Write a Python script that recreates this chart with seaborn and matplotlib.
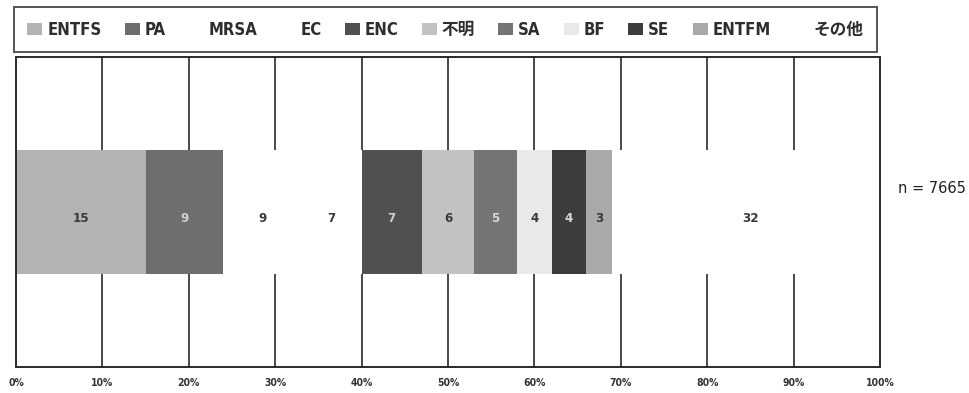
import numpy as np
import matplotlib
matplotlib.use("Agg")
import matplotlib.pyplot as plt
from matplotlib.patches import Patch
import seaborn as sns

# Organism share (%) of isolates, n = 7665
categories = ["ENTFS", "PA", "MRSA", "EC", "ENC", "不明", "SA", "BF", "SE", "ENTFM", "その他"]
values = [15, 9, 9, 7, 7, 6, 5, 4, 4, 3, 32]
colors = ["#b3b3b3", "#6e6e6e", "#ffffff", "#ffffff", "#505050", "#c2c2c2",
          "#747474", "#e9e9e9", "#3c3c3c", "#a9a9a9", "#ffffff"]
label_colors = ["#3a3a3a", "#d0d0d0", "#3a3a3a", "#3a3a3a", "#d0d0d0", "#3a3a3a",
                "#d8d8d8", "#3a3a3a", "#d8d8d8", "#3a3a3a", "#3a3a3a"]
tick_values = list(range(0, 101, 10))
tick_labels = [f"{t}%" for t in tick_values]
n_total = "n = 7665"

sns.set_theme(style="white")
fonts = ["DejaVu Sans", "Noto Sans CJK JP"]
plt.rcParams["font.family"] = fonts

fig = plt.figure(figsize=(9.70, 3.93), dpi=100)
ax = fig.add_axes([16 / 970, 1 - 367 / 393, 864 / 970, 310 / 393])

# stacked bar: draw cumulative totals from the largest down so each segment shows
cum = np.cumsum(values)
for i in range(len(values) - 1, -1, -1):
    sns.barplot(x=[cum[i]], y=[0], orient="h", color=colors[i], width=0.4,
                saturation=1, edgecolor="none", linewidth=0, zorder=2, ax=ax)

starts = cum - np.array(values)
for s, v, tc in zip(starts, values, label_colors):
    ax.text(s + v / 2, 0.02, str(v), ha="center", va="center", fontsize=9.5,
            fontweight="bold", stretch="condensed", color=tc, zorder=5)

ax.set_xlim(0, 100)
ax.set_ylim(0.5, -0.5)
ax.set_xticks(tick_values)
ax.set_xticklabels(tick_labels, fontsize=7.5, fontweight="bold", color="#333333",
                   stretch="condensed")
ax.tick_params(axis="x", length=0, pad=8)
ax.set_yticks([])
ax.set_xlabel("")
ax.set_ylabel("")
for x in tick_values[1:-1]:
    ax.axvline(x, color="#2a2a2a", lw=1.2, zorder=1)
for sp in ax.spines.values():
    sp.set_visible(True)
    sp.set_color("#2a2a2a")
    sp.set_linewidth(1.4)
    sp.set_zorder(4)

fig.text(932 / 970, 1 - 188 / 393, n_total, ha="center", va="center",
         fontsize=10.5, color="#222222")

handles = [Patch(facecolor=c, edgecolor="none") for c in colors]
leg = fig.legend(handles, categories, ncol=len(categories), loc="lower left",
                 bbox_to_anchor=(14 / 970, 1 - 52 / 393, 863 / 970, 43 / 393),
                 mode="expand", frameon=True, fancybox=False,
                 handlelength=0.9, handleheight=0.8, handletextpad=0.3,
                 borderaxespad=0, borderpad=0.8, columnspacing=1.0,
                 prop={"family": fonts, "weight": "bold", "size": 12,
                       "stretch": "condensed"})
leg.get_frame().set_edgecolor("#2a2a2a")
leg.get_frame().set_linewidth(1.4)
for t in leg.get_texts():
    t.set_color("#2e2e2e")

fig.savefig("out.png", dpi=100, facecolor="white")
